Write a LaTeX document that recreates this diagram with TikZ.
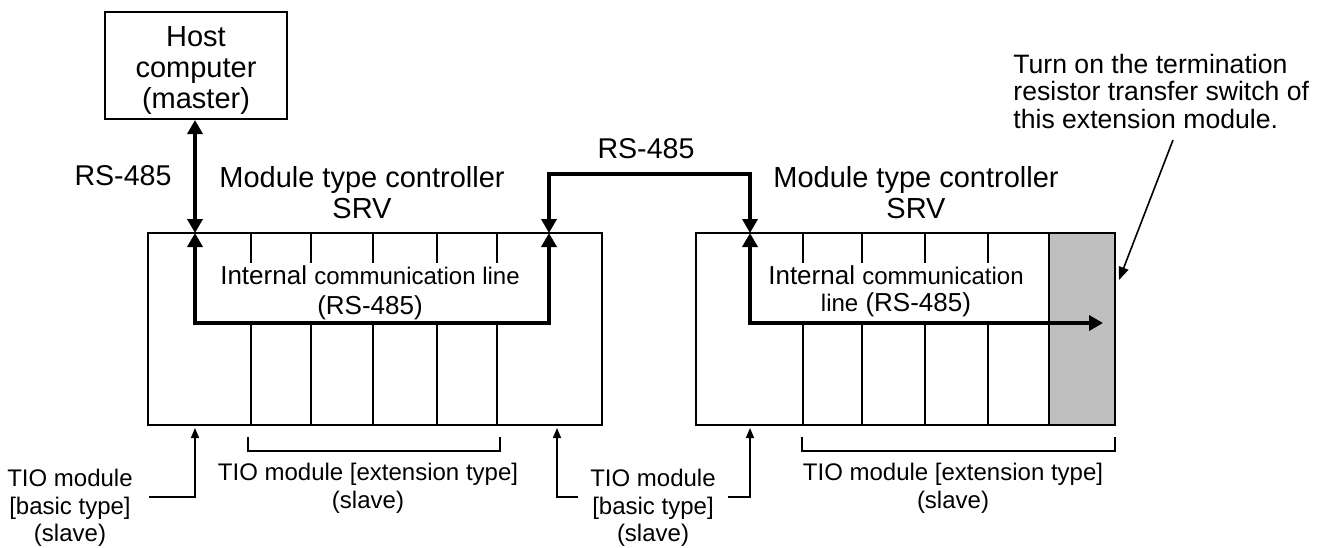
\documentclass[tikz,border=0pt]{standalone}
\usepackage{fontspec}
\setmainfont{Liberation Sans}
\usetikzlibrary{arrows.meta,positioning}

\begin{document}
\begin{tikzpicture}[x=0.5pt,y=-0.5pt,
    unit/.style={draw,line width=1pt,inner sep=0pt},
    bus/.style={line width=2.2pt,>={Triangle[length=7pt,width=7.5pt]},<->},
    pointer/.style={line width=0.8pt,-{Triangle[length=5pt,width=4pt]}},
    big/.style={font=\fontsize{14.5}{15.7}\selectfont,align=center},
    mid/.style={font=\fontsize{13}{15}\selectfont,align=center},
    small/.style={font=\fontsize{12}{13.75}\selectfont,align=center}]
            \useasboundingbox (0,0) rectangle (1328,547);
            % host and the two controllers
            \node [unit,minimum width=91pt,minimum height=53.5pt] (host) at (196,65.5) {};
            \node [big] (hostText) at ([yshift=-2.5pt]host.center) {Host\\computer\\(master)};
            \node [unit,minimum width=227pt,minimum height=96pt] (srvA) at (375,329) {};
            \node [unit,minimum width=209.5pt,minimum height=96pt] (srvB) at (905.5,329) {};
            \node [unit,fill=black!25,minimum width=33pt,minimum height=96pt] (term) at (1082,329) {};
            \foreach \x in {251,311,373,437,497}
            	\draw[line width=1pt] (\x,233) -- (\x,263) (\x,323) -- (\x,425);
            \foreach \x in {803,862,925,988}
            	\draw[line width=1pt] (\x,233) -- (\x,263) (\x,323) -- (\x,425);
            % texts
            \node [big] (titleA) at (362,192.5) {Module type controller\\SRV};
            \node [big] (titleB) at (916,192.5) {Module type controller\\SRV};
            \node [font=\fontsize{14.3}{15}\selectfont] (rsHost) at (123,176) {RS-485};
            \node [font=\fontsize{14.3}{15}\selectfont] (rsLink) at (646,149) {RS-485};
            \node [mid] (lineA) at (370,293) {Internal {\fontsize{12}{15}\selectfont communication line}\\(RS-485)};
            \node [font=\fontsize{13}{13.5}\selectfont,align=center] (lineB) at (896,291.5) {Internal {\fontsize{12}{13.5}\selectfont communication}\\{\fontsize{12}{13.5}\selectfont line} (RS-485)};
            \node [font=\fontsize{13.3}{13.75}\selectfont,align=left,anchor=west,inner sep=0pt] (note) at (1013,91) {Turn on the termination\\resistor transfer switch of\\this extension module.};
            \node [small,inner xsep=8pt] (tioA) at (70,508) {TIO module\\{[basic type]}\\(slave)};
            \node [small,inner xsep=6pt] (tioB) at (653,508) {TIO module\\{[basic type]}\\(slave)};
            \node [small] (extA) at (368,488.5) {TIO module [extension type]\\(slave)};
            \node [small] (extB) at (953,488.5) {TIO module [extension type]\\(slave)};
            % brackets
            \draw[line width=0.8pt] (248,437) |- (500,451) -- (500,437);
            \draw[line width=0.8pt] (802,437) |- (1115,451) -- (1115,437);
            % RS-485 lines
            \coordinate (a1) at (195,233);
            \coordinate (aL) at (195,323);
            \coordinate (aR) at (549,323);
            \coordinate (a2) at (549,233);
            \coordinate (t1) at (549,174);
            \coordinate (t2) at (750,174);
            \coordinate (b1) at (750,233);
            \coordinate (bL) at (750,323);
            \coordinate (bEnd) at (1103,323);
            \draw[bus] (host.south -| a1) -- (a1);
            \draw[bus] (a1) -- (aL) -- (aR) -- (a2);
            \draw[bus] (a2) -- (t1) -- (t2) -- (b1);
            \draw[bus] (b1) -- (bL) -- (bEnd);
            % pointers
            \coordinate (pA) at (195,428);
            \coordinate (pB) at (557,428);
            \coordinate (pC) at (750,428);
            \coordinate (noteFoot) at (1173,140);
            \coordinate (tip) at (1119,280);
            \draw[pointer] ([yshift=5.5pt]tioA.east) -| (pA);
            \draw[pointer] ([yshift=5.5pt]tioB.west) -| (pB);
            \draw[pointer] ([yshift=5.5pt]tioB.east) -| (pC);
            \draw[line width=0.8pt,-{Triangle[length=6.5pt,width=5pt]}] (noteFoot) -- (tip);
\end{tikzpicture}
\end{document}
